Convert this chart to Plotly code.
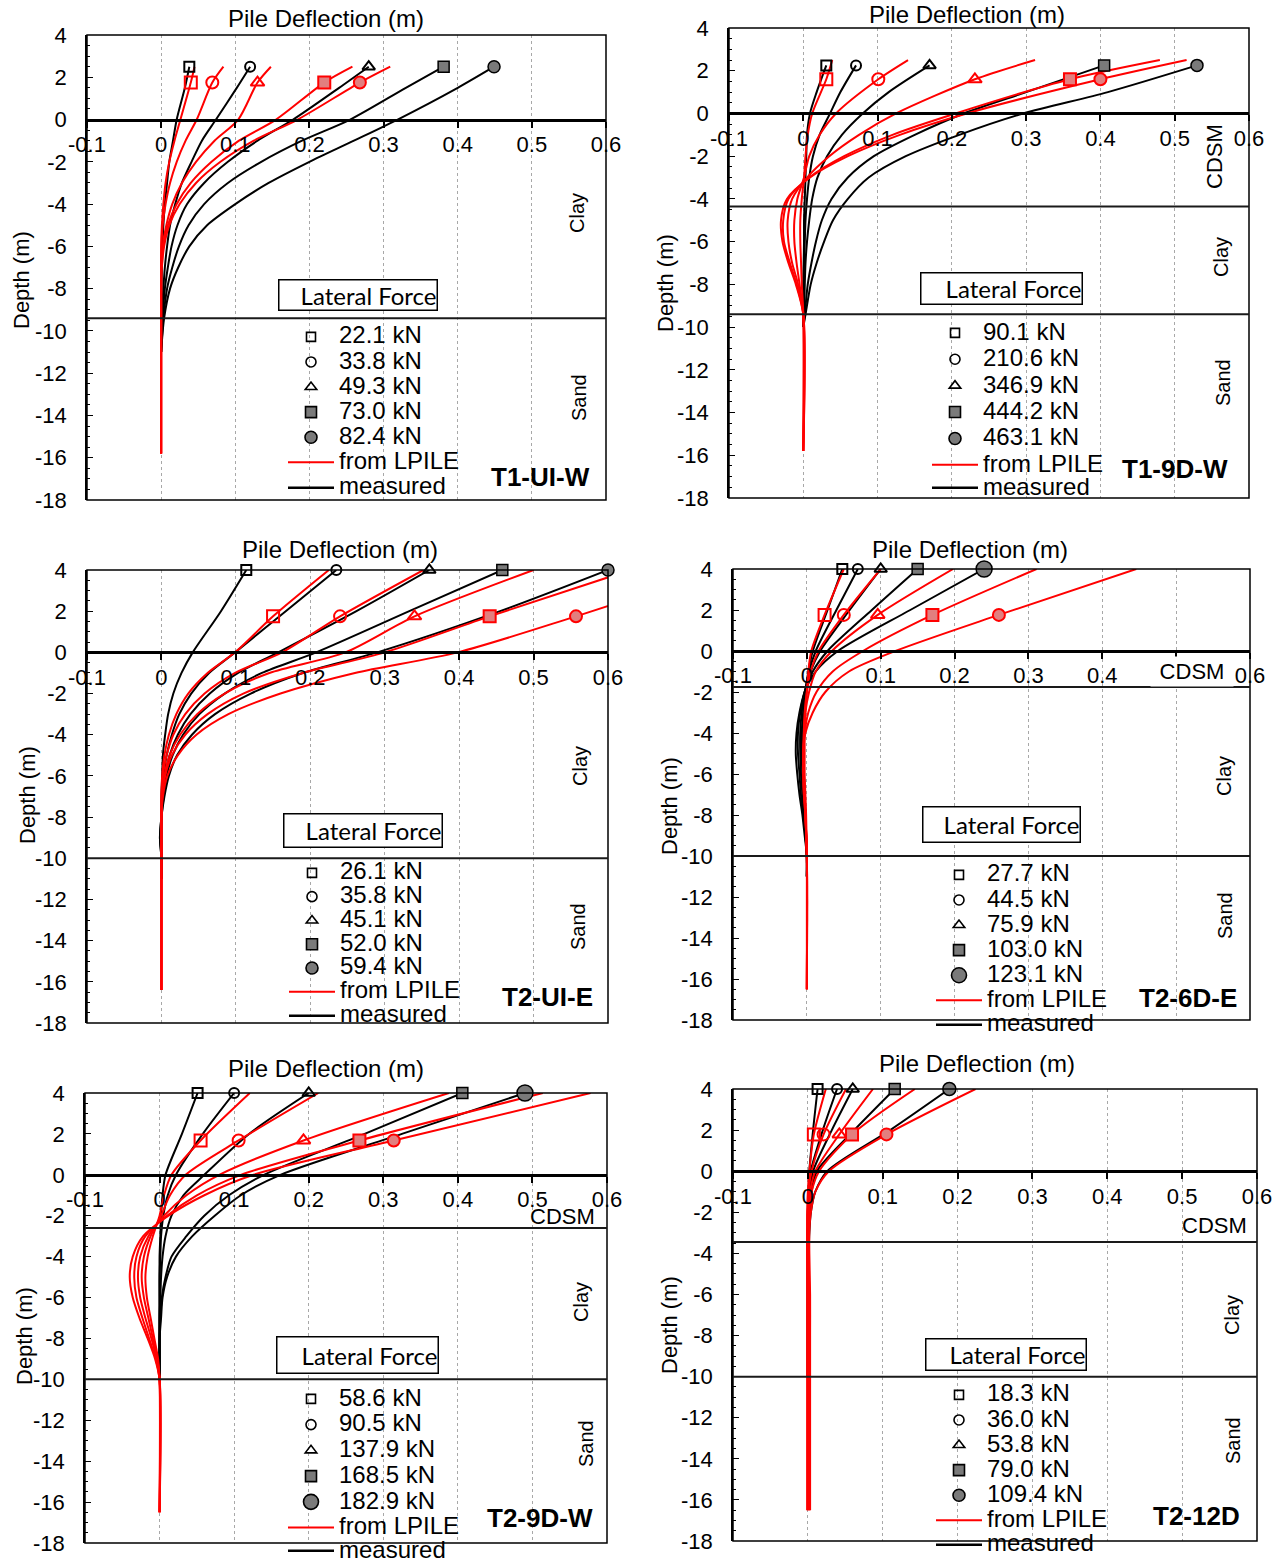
import plotly.graph_objects as go

W, H = 1283, 1561

# ---------------- axis ticks ----------------
X_TICKS = [-0.1, 0, 0.1, 0.2, 0.3, 0.4, 0.5, 0.6]
X_TICK_TEXT = ["-0.1", "0", "0.1", "0.2", "0.3", "0.4", "0.5", "0.6"]
X_TICK_TEXT_T26DE = ["-0.1", "0", "0.1", "0.2", "0.3", "0.4", "", "0.6"]  # 0.5 hidden under "CDSM"
Y_TICKS = [4, 2, 0, -2, -4, -6, -8, -10, -12, -14, -16, -18]
Y_TICK_TEXT = ["4", "2", "0", "-2", "-4", "-6", "-8", "-10", "-12", "-14", "-16", "-18"]

# ---------------- T1-UI-W ----------------
T1UIW_forces = ["22.1 kN", "33.8 kN", "49.3 kN", "73.0 kN", "82.4 kN"]
T1UIW_meas_depth = [2.5, 1.5, 0, -1, -2, -3, -4, -5, -6, -7, -8, -9.4, -11]
T1UIW_meas = [
    [0.038, 0.032, 0.021, 0.016, 0.011, 0.008, 0.005, 0.003, 0.002, 0.001, 0.0005, 0.0, 0.0],
    [0.120, 0.102, 0.074, 0.055, 0.041, 0.028, 0.019, 0.012, 0.008, 0.005, 0.003, 0.001, 0.0],
    [0.280, 0.240, 0.178, 0.130, 0.090, 0.058, 0.035, 0.022, 0.014, 0.009, 0.005, 0.002, 0.0],
    [0.381, 0.330, 0.255, 0.190, 0.135, 0.090, 0.058, 0.037, 0.024, 0.015, 0.008, 0.003, 0.0],
    [0.449, 0.400, 0.319, 0.260, 0.200, 0.145, 0.100, 0.062, 0.038, 0.023, 0.012, 0.004, 0.0],
]
T1UIW_lp_depth = [2.5, 1.75, 0, -1, -2, -3, -4, -5, -6, -7, -8, -10, -15.8]
T1UIW_lp = [
    [0.045, 0.040, 0.026, 0.018, 0.011, 0.006, 0.003, 0.001, 0.0, 0.0, 0.0, 0.0, 0.0],
    [0.084, 0.069, 0.048, 0.033, 0.021, 0.012, 0.006, 0.002, 0.0005, 0.0, 0.0, 0.0, 0.0],
    [0.148, 0.130, 0.104, 0.072, 0.047, 0.028, 0.015, 0.007, 0.002, 0.0, 0.0, 0.0, 0.0],
    [0.258, 0.220, 0.155, 0.105, 0.068, 0.040, 0.021, 0.009, 0.003, 0.0, 0.0, 0.0, 0.0],
    [0.309, 0.268, 0.184, 0.125, 0.080, 0.047, 0.025, 0.011, 0.004, 0.001, 0.0, 0.0, 0.0],
]
T1UIW_lp_mark_depth = 1.75
T1UIW_lp_mark = [0.040, 0.069, 0.130, 0.220, 0.268]
T1UIW_layers = [-9.4]

# ---------------- T1-9D-W ----------------
T19DW_forces = ["90.1 kN", "210.6 kN", "346.9 kN", "444.2 kN", "463.1 kN"]
T19DW_meas_depth = [2.25, 1, 0, -1, -2, -3, -4, -5, -6, -7, -8, -9.4, -10]
T19DW_meas = [
    [0.031, 0.018, 0.009, 0.005, 0.004, 0.003, 0.002, 0.001, 0.001, 0.0005, 0.0, 0.0, 0.0],
    [0.071, 0.050, 0.036, 0.022, 0.013, 0.008, 0.005, 0.003, 0.002, 0.001, 0.0005, 0.0, 0.0],
    [0.170, 0.115, 0.080, 0.052, 0.032, 0.019, 0.012, 0.008, 0.005, 0.003, 0.002, 0.001, 0.0],
    [0.405, 0.300, 0.216, 0.150, 0.095, 0.060, 0.038, 0.025, 0.017, 0.011, 0.006, 0.002, 0.0],
    [0.530, 0.410, 0.296, 0.210, 0.138, 0.088, 0.060, 0.040, 0.028, 0.018, 0.010, 0.003, 0.0],
]
T19DW_lp_depth = [2.5, 1.6, 0, -1, -2, -3, -4, -5, -6, -7, -8, -9.4, -15.8]
T19DW_lp = [
    [0.039, 0.031, 0.012, 0.006, 0.003, 0.001, -0.002, -0.004, -0.004, -0.003, -0.002, 0.0, 0.0],
    [0.141, 0.101, 0.044, 0.022, 0.008, 0.001, -0.008, -0.012, -0.012, -0.009, -0.005, 0.0, 0.0],
    [0.312, 0.231, 0.125, 0.075, 0.035, 0.005, -0.015, -0.021, -0.020, -0.015, -0.007, 0.0, 0.0],
    [0.480, 0.359, 0.205, 0.120, 0.055, 0.008, -0.020, -0.027, -0.026, -0.018, -0.009, 0.0, 0.0],
    [0.516, 0.400, 0.220, 0.130, 0.060, 0.009, -0.022, -0.030, -0.028, -0.020, -0.010, 0.0, 0.0],
]
T19DW_lp_mark_depth = 1.6
T19DW_lp_mark = [0.031, 0.101, 0.231, 0.359, 0.400]
T19DW_layers = [-4.35, -9.4]

# ---------------- T2-UI-E ----------------
T2UIE_forces = ["26.1 kN", "35.8 kN", "45.1 kN", "52.0 kN", "59.4 kN"]
T2UIE_meas_depth = [4, 2, 0, -1, -2, -3, -4, -5, -6, -7, -8, -9, -10, -11]
T2UIE_meas = [
    [0.114, 0.080, 0.042, 0.027, 0.016, 0.009, 0.005, 0.002, 0.001, 0.0, 0.0, 0.0, 0.0, 0.0],
    [0.235, 0.167, 0.099, 0.064, 0.040, 0.024, 0.014, 0.007, 0.003, 0.001, 0.0, 0.0, 0.0, 0.0],
    [0.360, 0.262, 0.157, 0.103, 0.065, 0.039, 0.022, 0.011, 0.005, 0.002, 0.0, -0.001, 0.0, 0.0],
    [0.458, 0.333, 0.208, 0.135, 0.085, 0.051, 0.029, 0.015, 0.007, 0.003, 0.0, -0.002, 0.0, 0.0],
    [0.600, 0.455, 0.290, 0.190, 0.120, 0.072, 0.041, 0.021, 0.010, 0.004, 0.0, -0.002, 0.0, 0.0],
]
T2UIE_lp_depth = [4, 1.75, 0, -1, -2, -3, -4, -5, -6, -7, -8, -10, -16.4]
T2UIE_lp = [
    [0.225, 0.150, 0.099, 0.062, 0.036, 0.020, 0.010, 0.004, 0.001, 0.0, 0.0, 0.0, 0.0],
    [0.352, 0.240, 0.162, 0.099, 0.058, 0.032, 0.016, 0.007, 0.002, 0.0, 0.0, 0.0, 0.0],
    [0.500, 0.340, 0.247, 0.145, 0.085, 0.048, 0.025, 0.011, 0.004, 0.001, 0.0, 0.0, 0.0],
    [0.630, 0.441, 0.300, 0.190, 0.110, 0.062, 0.032, 0.014, 0.005, 0.001, 0.0, 0.0, 0.0],
    [0.750, 0.557, 0.398, 0.260, 0.160, 0.090, 0.047, 0.022, 0.008, 0.002, 0.0, 0.0, 0.0],
]
T2UIE_lp_mark_depth = 1.75
T2UIE_lp_mark = [0.150, 0.240, 0.340, 0.441, 0.557]
T2UIE_layers = [-10]

# ---------------- T2-6D-E ----------------
T26DE_forces = ["27.7 kN", "44.5 kN", "75.9 kN", "103.0 kN", "123.1 kN"]
T26DE_meas_depth = [4, 2, 0, -1, -2, -3, -4, -5, -6, -7, -8, -9, -10, -11]
T26DE_meas = [
    [0.048, 0.028, 0.008, 0.002, -0.002, -0.004, -0.005, -0.005, -0.004, -0.003, -0.002, -0.001, 0.0, 0.0],
    [0.069, 0.040, 0.012, 0.003, -0.002, -0.005, -0.007, -0.007, -0.006, -0.004, -0.003, -0.001, 0.0, 0.0],
    [0.100, 0.058, 0.018, 0.005, -0.003, -0.007, -0.009, -0.009, -0.008, -0.006, -0.004, -0.002, 0.0, 0.0],
    [0.150, 0.088, 0.028, 0.008, -0.003, -0.009, -0.012, -0.012, -0.010, -0.008, -0.005, -0.002, 0.0, 0.0],
    [0.240, 0.140, 0.042, 0.012, -0.003, -0.010, -0.014, -0.015, -0.013, -0.010, -0.006, -0.003, 0.0, 0.0],
]
T26DE_lp_depth = [4, 1.76, 0, -1, -2, -3, -4, -5, -6, -7, -8, -10, -16.5]
T26DE_lp = [
    [0.050, 0.024, 0.006, 0.002, 0.000, -0.002, -0.003, -0.003, -0.003, -0.002, -0.001, 0.0, 0.0],
    [0.100, 0.050, 0.016, 0.005, 0.000, -0.003, -0.004, -0.004, -0.004, -0.003, -0.002, 0.0, 0.0],
    [0.198, 0.096, 0.034, 0.012, 0.003, -0.002, -0.004, -0.005, -0.004, -0.003, -0.002, 0.0, 0.0],
    [0.311, 0.170, 0.076, 0.035, 0.013, 0.002, -0.003, -0.005, -0.005, -0.004, -0.002, 0.0, 0.0],
    [0.446, 0.260, 0.120, 0.057, 0.025, 0.008, -0.002, -0.005, -0.005, -0.004, -0.002, 0.0, 0.0],
]
T26DE_lp_mark_depth = 1.76
T26DE_lp_mark = [0.024, 0.050, 0.096, 0.170, 0.260]
T26DE_layers = [-1.75, -10]

# ---------------- T2-9D-W ----------------
T29DW_forces = ["58.6 kN", "90.5 kN", "137.9 kN", "168.5 kN", "182.9 kN"]
T29DW_meas_depth = [4, 2, 0, -1, -2, -3, -4, -5, -6, -7, -8, -9, -10]
T29DW_meas = [
    [0.051, 0.030, 0.008, 0.004, 0.002, 0.001, 0.0, 0.0, 0.0, 0.0, 0.0, 0.0, 0.0],
    [0.100, 0.058, 0.022, 0.011, 0.005, 0.002, 0.001, 0.0, 0.0, 0.0, 0.0, 0.0, 0.0],
    [0.200, 0.120, 0.060, 0.032, 0.016, 0.008, 0.004, 0.002, 0.001, 0.0, 0.0, 0.0, 0.0],
    [0.406, 0.275, 0.140, 0.093, 0.060, 0.036, 0.016, 0.008, 0.003, 0.001, 0.0, 0.0, 0.0],
    [0.490, 0.325, 0.162, 0.109, 0.074, 0.044, 0.022, 0.010, 0.004, 0.002, 0.0, 0.0, 0.0],
]
T29DW_lp_depth = [4, 1.68, 0, -1, -2, -3, -4, -5, -6, -7, -8, -9, -10, -16.5]
T29DW_lp = [
    [0.121, 0.055, 0.016, 0.006, 0.000, -0.009, -0.016, -0.019, -0.017, -0.012, -0.007, -0.002, 0.0, 0.0],
    [0.213, 0.106, 0.035, 0.014, 0.002, -0.012, -0.021, -0.024, -0.021, -0.015, -0.009, -0.003, 0.0, 0.0],
    [0.388, 0.193, 0.080, 0.036, 0.006, -0.015, -0.026, -0.029, -0.026, -0.019, -0.011, -0.004, 0.0, 0.0],
    [0.514, 0.268, 0.109, 0.050, 0.010, -0.019, -0.031, -0.034, -0.031, -0.023, -0.014, -0.005, 0.0, 0.0],
    [0.578, 0.314, 0.126, 0.060, 0.012, -0.022, -0.036, -0.040, -0.036, -0.027, -0.016, -0.006, 0.0, 0.0],
]
T29DW_lp_mark_depth = 1.68
T29DW_lp_mark = [0.055, 0.106, 0.193, 0.268, 0.314]
T29DW_layers = [-2.6, -10]

# ---------------- T2-12D ----------------
T212D_forces = ["18.3 kN", "36.0 kN", "53.8 kN", "79.0 kN", "109.4 kN"]
T212D_meas_depth = [4, 2, 0, -1, -2, -3, -4, -5, -6, -8, -10]
T212D_meas = [
    [0.013, 0.007, 0.002, 0.001, 0.0, 0.0, 0.0, 0.0, 0.0, 0.0, 0.0],
    [0.039, 0.020, 0.004, 0.002, 0.001, 0.0, 0.0, 0.0, 0.0, 0.0, 0.0],
    [0.060, 0.032, 0.007, 0.003, 0.001, 0.0, 0.0, 0.0, 0.0, 0.0, 0.0],
    [0.116, 0.062, 0.012, 0.005, 0.002, 0.001, 0.0, 0.0, 0.0, 0.0, 0.0],
    [0.189, 0.110, 0.026, 0.010, 0.004, 0.002, 0.001, 0.0, 0.0, 0.0, 0.0],
]
T212D_lp_depth = [4, 1.79, 0, -1, -2, -3, -4, -6, -8, -10, -16.5]
T212D_lp = [
    [0.024, 0.008, 0.002, 0.000, -0.001, -0.001, -0.001, -0.001, -0.001, -0.001, -0.001],
    [0.051, 0.021, 0.005, 0.001, 0.000, -0.001, -0.001, 0.000, 0.000, 0.000, 0.000],
    [0.087, 0.042, 0.010, 0.003, 0.001, 0.000, 0.000, 0.001, 0.001, 0.001, 0.001],
    [0.143, 0.059, 0.015, 0.005, 0.002, 0.001, 0.001, 0.002, 0.002, 0.002, 0.002],
    [0.224, 0.105, 0.028, 0.010, 0.004, 0.002, 0.002, 0.003, 0.003, 0.003, 0.003],
]
T212D_lp_mark_depth = 1.79
T212D_lp_mark = [0.008, 0.021, 0.042, 0.059, 0.105]
T212D_layers = [-3.45, -10]

# ---------------- panel layout (pixel positions) ----------------
PANELS = [
    dict(label="T1-UI-W", forces=T1UIW_forces, md=T1UIW_meas_depth, m=T1UIW_meas,
         ld=T1UIW_lp_depth, l=T1UIW_lp, lmd=T1UIW_lp_mark_depth, lm=T1UIW_lp_mark, layers=T1UIW_layers,
         xt=X_TICK_TEXT, box=(87, 35, 606, 500), title=(326, 18), depth=(22, 280), lf=(358, 295, 162, 33),
         leg=(312, 335, 17, 486), tag=(540, 477), white=(283, 321, 455, 499), bigc=12,
         soil=[("Clay", 577, 213, -90, False, 20), ("Sand", 579, 398, -90, False, 20)]),
    dict(label="T1-9D-W", forces=T19DW_forces, md=T19DW_meas_depth, m=T19DW_meas,
         ld=T19DW_lp_depth, l=T19DW_lp, lmd=T19DW_lp_mark_depth, lm=T19DW_lp_mark, layers=T19DW_layers,
         xt=X_TICK_TEXT, box=(729, 28, 1249, 498), title=(967, 14), depth=(666, 283), lf=(1001, 289, 165, 34),
         leg=(956, 331, 18, 486), tag=(1175, 469), white=(928, 318, 1100, 497), bigc=12,
         soil=[("CDSM", 1215, 157, -90, False, 22), ("Clay", 1221, 257, -90, False, 20),
               ("Sand", 1223, 383, -90, False, 20)]),
    dict(label="T2-UI-E", forces=T2UIE_forces, md=T2UIE_meas_depth, m=T2UIE_meas,
         ld=T2UIE_lp_depth, l=T2UIE_lp, lmd=T2UIE_lp_mark_depth, lm=T2UIE_lp_mark, layers=T2UIE_layers,
         xt=X_TICK_TEXT, box=(87, 570, 608, 1023), title=(340, 549), depth=(27, 795), lf=(363, 830, 162, 36),
         leg=(313, 871, 16, 1014), tag=(547, 997), white=(283, 859, 455, 1022), bigc=12,
         soil=[("Clay", 580, 766, -90, False, 20), ("Sand", 578, 927, -90, False, 20)]),
    dict(label="T2-6D-E", forces=T26DE_forces, md=T26DE_meas_depth, m=T26DE_meas,
         ld=T26DE_lp_depth, l=T26DE_lp, lmd=T26DE_lp_mark_depth, lm=T26DE_lp_mark, layers=T26DE_layers,
         xt=X_TICK_TEXT_T26DE, box=(733, 569, 1250, 1020), title=(970, 549), depth=(669, 806),
         lf=(1001, 824, 161, 38), leg=(960, 873, 17, 1023), tag=(1188, 998), white=(930, 858, 1100, 1019),
         bigc=16,
         soil=[("CDSM", 1192, 671, 0, True, 22), ("Clay", 1224, 776, -90, False, 20),
               ("Sand", 1225, 916, -90, False, 20)]),
    dict(label="T2-9D-W", forces=T29DW_forces, md=T29DW_meas_depth, m=T29DW_meas,
         ld=T29DW_lp_depth, l=T29DW_lp, lmd=T29DW_lp_mark_depth, lm=T29DW_lp_mark, layers=T29DW_layers,
         xt=X_TICK_TEXT, box=(85, 1093, 607, 1543), title=(326, 1068), depth=(24, 1336), lf=(357, 1355, 165, 39),
         leg=(312, 1397, 17.5, 1549), tag=(540, 1518), white=(283, 1382, 455, 1542), bigc=16,
         soil=[("CDSM", 562, 1216, 0, False, 22), ("Clay", 581, 1302, -90, False, 20),
               ("Sand", 586, 1444, -90, False, 20)]),
    dict(label="T2-12D", forces=T212D_forces, md=T212D_meas_depth, m=T212D_meas,
         ld=T212D_lp_depth, l=T212D_lp, lmd=T212D_lp_mark_depth, lm=T212D_lp_mark, layers=T212D_layers,
         xt=X_TICK_TEXT, box=(733, 1089, 1257, 1541), title=(977, 1063), depth=(669, 1325), lf=(1006, 1354, 164, 34),
         leg=(960, 1393, 17, 1543), tag=(1196, 1516), white=(930, 1380, 1100, 1540), bigc=13,
         soil=[("CDSM", 1214, 1225, 0, False, 22), ("Clay", 1232, 1315, -90, False, 20),
               ("Sand", 1233, 1441, -90, False, 20)]),
]

FONT = "Liberation Sans"
MEAS_SYM = ["square-open", "circle-open", "triangle-up-open", "square", "circle"]
MEAS_FILL = ["black", "black", "black", "#7a7a7a", "#7a7a7a"]
LP_FILL = ["red", "red", "red", "#e27f7f", "#e27f7f"]
LEG_SIZE = [9, 10, 10, 11, 12]
ITEMW = 46


def px(x):
    return x / W


def py(y):
    return 1 - y / H


def big(t):
    return '<span style="font-size:24px">%s</span>' % t


def note(x, y, text, **kw):
    d = dict(x=px(x), y=py(y), xref="paper", yref="paper", showarrow=False, text=text,
             xanchor="center", yanchor="middle")
    d.update(kw)
    return d


fig = go.Figure()
layout = dict(width=W, height=H, margin=dict(l=0, r=0, t=0, b=0, autoexpand=False),
              template="none", paper_bgcolor="white", plot_bgcolor="white",
              font=dict(family=FONT, color="black"), showlegend=True)
shapes, annotations = [], []

for i, P in enumerate(PANELS):
    n = i + 1
    s = "" if n == 1 else str(n)
    xa, ya = "x" + s, "y" + s
    legA = "legend" if n == 1 else "legend%d" % (2 * n - 1)
    legB = "legend%d" % (2 * n)
    L, T, R, B = P["box"]
    yd = [py(B), py(T)]
    zero_pos = yd[0] + (0 - (-18)) / 22 * (yd[1] - yd[0])
    layout["xaxis" + s] = dict(
        domain=[px(L), px(R)], range=[-0.1, 0.6], tickmode="array", tickvals=X_TICKS,
        ticktext=P["xt"], anchor="free", position=zero_pos, side="bottom", automargin=False,
        showline=True, linewidth=3, linecolor="black", ticks="outside", ticklen=6,
        tickwidth=2, tickcolor="black", showgrid=True, gridcolor="#a8a8a8",
        griddash="dot", gridwidth=1, zeroline=False, ticklabelstandoff=-2,
        tickfont=dict(size=22, family=FONT, color="black"))
    layout["yaxis" + s] = dict(
        domain=yd, range=[-18, 4], anchor=xa, tickmode="array", tickvals=Y_TICKS,
        ticktext=Y_TICK_TEXT, showline=True, linewidth=1.5, linecolor="black", automargin=False,
        ticks="inside", ticklen=6, tickwidth=1.2, tickcolor="black",
        minor=dict(tickmode="linear", tick0=0, dtick=0.5, ticks="inside", ticklen=3,
                   tickcolor="black", tickwidth=1),
        showgrid=False, zeroline=False, ticklabelstandoff=14,
        tickfont=dict(size=22, family=FONT, color="black"))

    # white backdrop behind legend (hides grid lines)
    wx0, wy0, wx1, wy1 = P["white"]
    shapes.append(dict(type="rect", xref="paper", yref="paper", x0=px(wx0), x1=px(wx1),
                       y0=py(wy1), y1=py(wy0), fillcolor="white", line=dict(width=0),
                       layer="between"))
    # frame
    shapes.append(dict(type="rect", xref=xa + " domain", yref=ya + " domain", x0=0, x1=1,
                       y0=0, y1=1, line=dict(color="black", width=1.5), layer="above"))
    # soil layer boundaries
    for d in P["layers"]:
        shapes.append(dict(type="line", xref=xa + " domain", yref=ya, x0=0, x1=1, y0=d, y1=d,
                           line=dict(color="#1a1a1a", width=2), layer="above"))

    # measured curves
    for k in range(5):
        fig.add_trace(go.Scatter(x=P["m"][k], y=P["md"], mode="lines", xaxis=xa, yaxis=ya,
                                 line=dict(color="black", width=2, shape="spline", smoothing=0.8),
                                 showlegend=False, hoverinfo="skip"))
    # LPILE curves
    for k in range(5):
        fig.add_trace(go.Scatter(x=P["l"][k], y=P["ld"], mode="lines", xaxis=xa, yaxis=ya,
                                 line=dict(color="red", width=2, shape="spline", smoothing=0.8),
                                 showlegend=False, hoverinfo="skip"))
    # markers
    for k in range(5):
        size = P["bigc"] if k == 4 else (11 if k >= 2 else 10)
        fig.add_trace(go.Scatter(x=[P["m"][k][0]], y=[P["md"][0]], mode="markers", xaxis=xa,
                                 yaxis=ya, cliponaxis=False, showlegend=False, hoverinfo="skip",
                                 marker=dict(symbol=MEAS_SYM[k], size=size, color=MEAS_FILL[k],
                                             line=dict(color="black", width=2 if k < 3 else 1.5))))
        fig.add_trace(go.Scatter(x=[P["lm"][k]], y=[P["lmd"]], mode="markers", xaxis=xa,
                                 yaxis=ya, cliponaxis=False, showlegend=False, hoverinfo="skip",
                                 marker=dict(symbol=MEAS_SYM[k], size=12, color=LP_FILL[k],
                                             line=dict(color="red", width=2))))
    # legend entries
    for k in range(5):
        size = LEG_SIZE[k] + (3 if (k == 4 and P["bigc"] >= 16) else 0)
        fig.add_trace(go.Scatter(x=[None], y=[None], mode="markers", xaxis=xa, yaxis=ya,
                                 name=big(P["forces"][k]), legend=legA,
                                 marker=dict(symbol=MEAS_SYM[k], size=size, color=MEAS_FILL[k],
                                             line=dict(color="black", width=1.6))))
    fig.add_trace(go.Scatter(x=[None], y=[None], mode="lines", xaxis=xa, yaxis=ya,
                             name=big("from LPILE"), legend=legA, line=dict(color="red", width=2)))
    fig.add_trace(go.Scatter(x=[None], y=[None], mode="lines", xaxis=xa, yaxis=ya,
                             name=big("measured"), legend=legB, line=dict(color="black", width=2.5)))

    mx, row0, lfs, rowB = P["leg"]
    itemh = 1.3 * lfs + 3
    for lid, row in ((legA, row0), (legB, rowB)):
        top = row + 3 - (6.15 + itemh / 2)
        layout[lid] = dict(x=px(mx - (ITEMW / 2 + 6)), y=py(top), xanchor="left", yanchor="top",
                           bgcolor="rgba(0,0,0,0)", borderwidth=0, itemwidth=ITEMW,
                           tracegroupgap=0, traceorder="normal",
                           font=dict(family=FONT, size=lfs, color="black"))

    # texts
    tx, ty = P["title"]
    annotations.append(note(tx, ty, "Pile Deflection (m)", font=dict(size=24, family=FONT)))
    dx, dy = P["depth"]
    annotations.append(note(dx, dy, "Depth (m)", textangle=-90, font=dict(size=22, family=FONT)))
    fx, fy, fw, fh = P["lf"]
    annotations.append(note(fx, fy, "Lateral Force", width=fw - 5, height=fh - 4, align="right",
                            bgcolor="white", bordercolor="black", borderwidth=1.5, borderpad=0,
                            font=dict(size=24, family="Lato")))
    gx, gy = P["tag"]
    annotations.append(note(gx, gy, "<b>%s</b>" % P["label"], font=dict(size=26, family=FONT)))
    for text, sx, sy, ang, bg, fs in P["soil"]:
        a = note(sx, sy, text, textangle=ang, font=dict(size=fs, family=FONT))
        if bg:
            a.update(bgcolor="white", width=80, height=27)
        annotations.append(a)

layout["shapes"] = shapes
layout["annotations"] = annotations
fig.update_layout(**layout)
fig.write_html("out.html")
